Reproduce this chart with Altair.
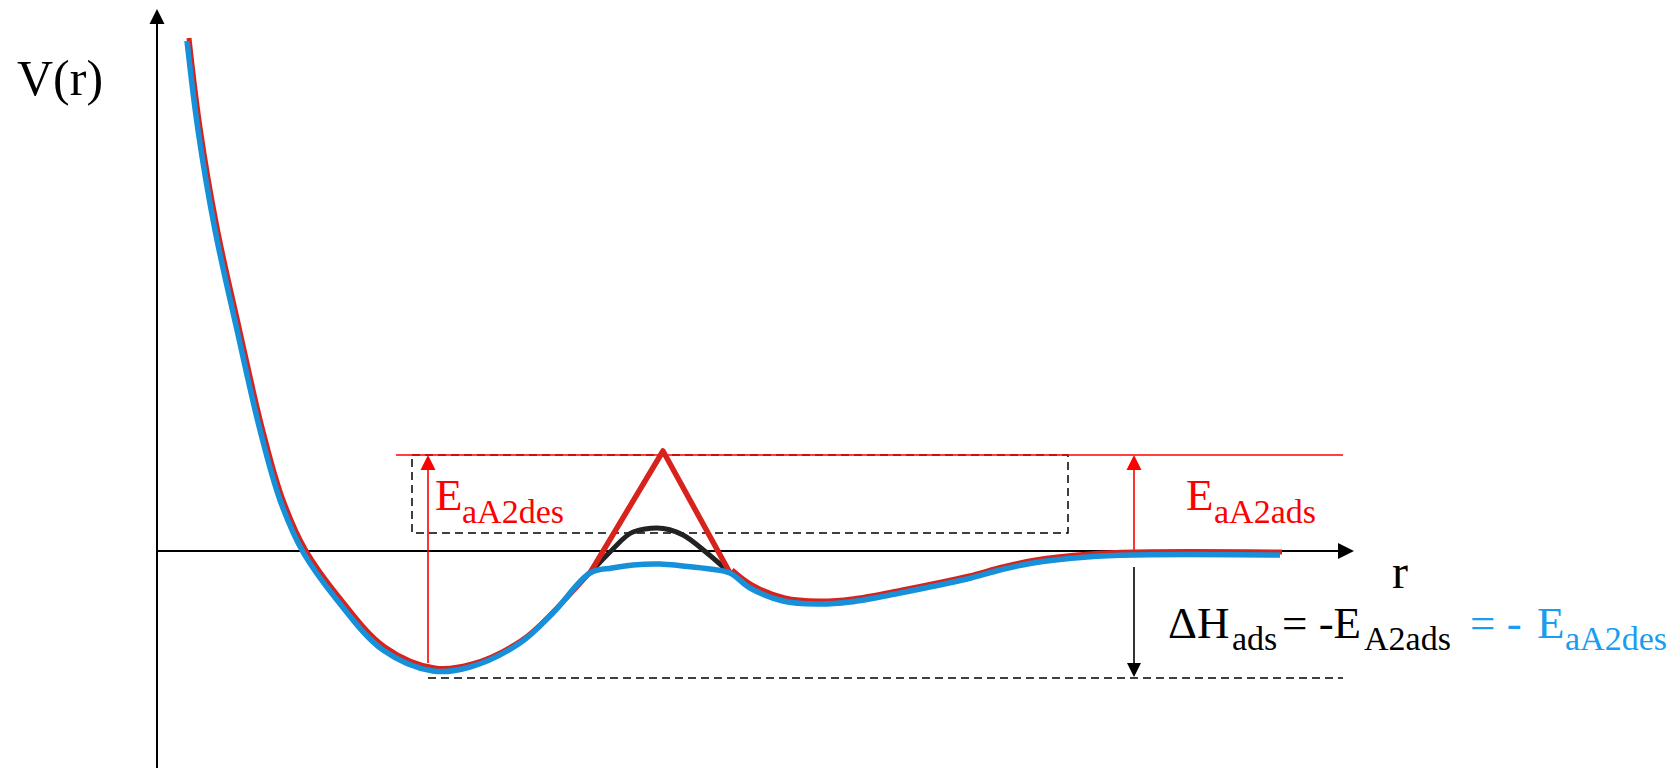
import altair as alt
import pandas as pd

# ---------------- data (r, V in arbitrary units) ----------------
# main potential curve (blue), incl. the low bump between the two wells
r_main = [0.30, 0.41, 0.58, 0.80, 1.03, 1.23, 1.46, 1.80, 2.26, 2.76, 3.13, 3.63, 3.96, 4.33,
          4.55, 4.76, 5.03, 5.26, 5.53, 5.73,
          5.93, 6.26, 6.60, 6.93, 7.43, 8.10, 8.43, 8.76, 9.30, 9.76, 11.23]
v_main = [5.10, 4.21, 3.21, 2.21, 1.21, 0.51, -0.01, -0.49, -0.99, -1.20, -1.16, -0.92, -0.62, -0.22,
          -0.17, -0.14, -0.13, -0.15, -0.18, -0.22,
          -0.37, -0.50, -0.53, -0.51, -0.42, -0.28, -0.19, -0.12, -0.06, -0.04, -0.04]
# red curve: follows the main curve, but with a high activation peak
red_left_n = 14          # first 14 points of the main curve
red_right_start = 19     # main curve from this index on
r_red_peak = [4.33, 5.06, 5.73]
v_red_peak = [-0.22, 1.00, -0.22]
# black intermediate barrier
r_black = [4.33, 4.53, 4.76, 5.00, 5.26, 5.50, 5.73]
v_black = [-0.22, -0.01, 0.19, 0.23, 0.16, -0.02, -0.22]

# reference levels
E_top = 0.96           # top of the activation barrier (red line)
box_bottom = 0.18      # bottom of the dashed box
well_min = -1.27       # bottom of the well (dashed line)
r_left_arrow = 2.71
r_right_arrow = 9.77

# text labels
big_labels = [
    {"r": -1.40, "V": 4.56, "text": "V(r)", "size": 50, "color": "#000000"},
    {"r": 12.35, "V": -0.37, "text": "r", "size": 48, "color": "#000000"},
]
texts_main = [
    {"r": 2.78, "V": 0.41, "text": "E", "color": "#ff0000"},
    {"r": 10.29, "V": 0.41, "text": "E", "color": "#ff0000"},
    {"r": 10.11, "V": -0.87, "text": "ΔH", "color": "#000000"},
    {"r": 11.25, "V": -0.87, "text": "= -E", "color": "#000000"},
    {"r": 13.13, "V": -0.87, "text": "= -", "color": "#1a9cf0"},
    {"r": 13.80, "V": -0.87, "text": "E", "color": "#1a9cf0"},
]
texts_sub = [
    {"r": 3.05, "V": 0.28, "text": "aA2des", "color": "#ff0000"},
    {"r": 10.57, "V": 0.28, "text": "aA2ads", "color": "#ff0000"},
    {"r": 10.75, "V": -0.99, "text": "ads", "color": "#000000"},
    {"r": 12.07, "V": -0.99, "text": "A2ads", "color": "#000000"},
    {"r": 14.08, "V": -0.99, "text": "aA2des", "color": "#1a9cf0"},
]

# ---------------- scales ----------------
XS = alt.Scale(domain=[-1.49, 15.13], nice=False, zero=False)
YS = alt.Scale(domain=[-2.17, 5.43], nice=False, zero=False)
FONT = "Liberation Serif"


def X(f="r"):
    return alt.X(f"{f}:Q", scale=XS, axis=None)


def Y(f="V"):
    return alt.Y(f"{f}:Q", scale=YS, axis=None)


main_df = pd.DataFrame({"r": r_main, "V": v_main})
red_df = pd.concat([
    pd.DataFrame({"r": r_main[:red_left_n], "V": v_main[:red_left_n], "seg": "left"}),
    pd.DataFrame({"r": r_main[red_right_start:], "V": v_main[red_right_start:], "seg": "right"}),
])
peak_df = pd.DataFrame({"r": r_red_peak, "V": v_red_peak})
black_df = pd.DataFrame({"r": r_black, "V": v_black})

layers = []

# axes (drawn as rules with arrowheads)
axes_df = pd.DataFrame([
    {"r": 0.0, "r2": 0.0, "V": -2.3, "V2": 5.30},
    {"r": 0.0, "r2": 11.90, "V": 0.0, "V2": 0.0},
])
layers.append(alt.Chart(axes_df).mark_rule(color="black", strokeWidth=2).encode(
    x=X(), x2="r2:Q", y=Y(), y2="V2:Q"))

UP = "M0,0L-0.5,1L0.5,1Z"
DOWN = "M0,0L-0.5,-1L0.5,-1Z"
RIGHT = "M0,0L-1,-0.5L-1,0.5Z"

layers.append(alt.Chart(pd.DataFrame({"r": [0.0], "V": [5.42]})).mark_point(
    shape=UP, size=900, filled=True, color="black", opacity=1, strokeWidth=0).encode(x=X(), y=Y()))
layers.append(alt.Chart(pd.DataFrame({"r": [11.97], "V": [0.0]})).mark_point(
    shape=RIGHT, size=1024, filled=True, color="black", opacity=1, strokeWidth=0).encode(x=X(), y=Y()))

# dashed box and dashed well-bottom line
box_df = pd.DataFrame({"r": [2.55], "r2": [9.11], "V": [box_bottom], "V2": [E_top]})
layers.append(alt.Chart(box_df).mark_rect(fill=None, fillOpacity=0, stroke="black", strokeWidth=1.5,
                                          strokeDash=[8, 5]).encode(x=X(), x2="r2:Q", y=Y(), y2="V2:Q"))
well_df = pd.DataFrame({"r": [r_left_arrow], "r2": [11.86], "V": [well_min]})
layers.append(alt.Chart(well_df).mark_rule(color="black", strokeWidth=1.5, strokeDash=[8, 5]).encode(
    x=X(), x2="r2:Q", y=Y()))

# red reference line at the barrier top
top_df = pd.DataFrame({"r": [2.39], "r2": [11.86], "V": [E_top]})
layers.append(alt.Chart(top_df).mark_rule(color="#ff0000", strokeWidth=1.6).encode(x=X(), x2="r2:Q", y=Y()))

# red arrows (activation energies)
red_arrows = pd.DataFrame([
    {"r": r_left_arrow, "V": -1.12, "V2": E_top - 0.1},
    {"r": r_right_arrow, "V": 0.0, "V2": E_top - 0.1},
])
layers.append(alt.Chart(red_arrows).mark_rule(color="#ff0000", strokeWidth=1.6).encode(
    x=X(), y=Y(), y2="V2:Q"))
layers.append(alt.Chart(pd.DataFrame({"r": [r_left_arrow, r_right_arrow], "V": [E_top, E_top]})).mark_point(
    shape=UP, size=900, filled=True, color="#ff0000", opacity=1, strokeWidth=0).encode(x=X(), y=Y()))

# black arrow (adsorption enthalpy)
layers.append(alt.Chart(pd.DataFrame({"r": [r_right_arrow], "V": [-0.16], "V2": [well_min + 0.1]})).mark_rule(
    color="black", strokeWidth=1.6).encode(x=X(), y=Y(), y2="V2:Q"))
layers.append(alt.Chart(pd.DataFrame({"r": [r_right_arrow], "V": [well_min + 0.01]})).mark_point(
    shape=DOWN, size=784, filled=True, color="black", opacity=1, strokeWidth=0).encode(x=X(), y=Y()))

# curves
layers.append(alt.Chart(red_df).mark_line(color="#d8221c", strokeWidth=5, interpolate="catmull-rom",
                                          xOffset=2, yOffset=-3).encode(x=X(), y=Y(), detail="seg:N"))
layers.append(alt.Chart(black_df).mark_line(color="#222222", strokeWidth=5, interpolate="monotone").encode(
    x=X(), y=Y()))
layers.append(alt.Chart(peak_df).mark_line(color="#d8221c", strokeWidth=5.5, strokeJoin="round").encode(
    x=X(), y=Y()))
layers.append(alt.Chart(main_df).mark_line(color="#1690d8", strokeWidth=5.5, interpolate="catmull-rom").encode(
    x=X(), y=Y()))

# texts
for lab in big_labels:
    layers.append(alt.Chart(pd.DataFrame([lab])).mark_text(
        font=FONT, fontSize=lab["size"], align="left", baseline="alphabetic", color=lab["color"]).encode(
        x=X(), y=Y(), text="text:N"))
main_txt = pd.DataFrame(texts_main)
layers.append(alt.Chart(main_txt).mark_text(font=FONT, fontSize=45, align="left", baseline="alphabetic").encode(
    x=X(), y=Y(), text="text:N", color=alt.Color("color:N", scale=None)))
sub_txt = pd.DataFrame(texts_sub)
layers.append(alt.Chart(sub_txt).mark_text(font=FONT, fontSize=34, align="left", baseline="alphabetic").encode(
    x=X(), y=Y(), text="text:N", color=alt.Color("color:N", scale=None)))

chart = alt.layer(*layers).properties(
    width=1662, height=760, autosize=alt.AutoSizeParams(type="none"), padding=0
).configure_view(stroke=None)

chart.save("out.html", embed_options={"renderer": "svg", "actions": False})
